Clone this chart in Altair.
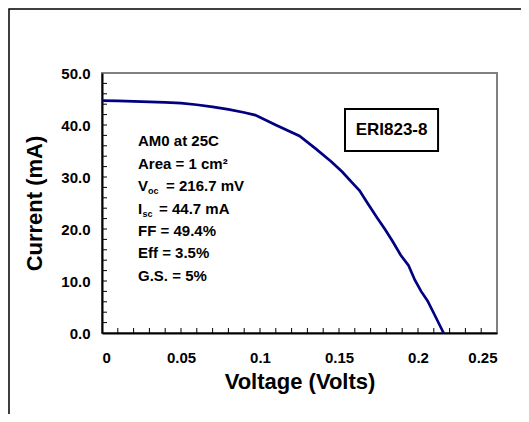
import altair as alt
import pandas as pd

# I-V curve data (Voltage in V, Current in mA)
voltage = [0.0, 0.01, 0.02, 0.03, 0.04, 0.05, 0.06, 0.07, 0.08, 0.09, 0.097,
           0.11, 0.125, 0.135, 0.145, 0.152, 0.158, 0.163, 0.168, 0.174, 0.179,
           0.184, 0.189, 0.194, 0.198, 0.202, 0.206, 0.210, 0.2162]
current = [44.7, 44.65, 44.55, 44.45, 44.35, 44.2, 43.9, 43.5, 43.0, 42.4, 41.9,
           40.0, 37.9, 35.5, 33.0, 31.0, 29.0, 27.4, 25.0, 22.2, 20.0,
           17.6, 15.0, 13.0, 10.2, 8.0, 6.2, 3.8, 0.0]

x_ticks = [0, 0.05, 0.1, 0.15, 0.2, 0.25]
y_ticks = [0, 10, 20, 30, 40, 50]
x_minor = [round(i * 0.01, 2) for i in range(1, 25)]
y_minor = [i * 2 for i in range(1, 25)]

# annotation text
ann_x = 0.0228
ann_lines = ["AM0 at 25C", "Area = 1 cm\u00b2", "V", "I", "FF = 49.4%", "Eff = 3.5%", "G.S. = 5%"]
ann_y = [36.9, 32.5, 28.3, 23.9, 19.6, 15.4, 11.0]
voc_rest = "= 216.7 mV"
isc_rest = "= 44.7 mA"
label_box = "ERI823-8"
box_x = [0.1538, 0.2127]
box_y = [35.0, 43.1]

FONT = "Liberation Sans"

xs = alt.Scale(domain=[0, 0.25], nice=False, zero=False)
ys = alt.Scale(domain=[0, 50], nice=False, zero=False)

curve_df = pd.DataFrame({"V": voltage, "I": current})

frame = alt.Chart(pd.DataFrame({"a": [0]})).mark_rect(
    fill=None, stroke="black", strokeWidth=1.5
).encode(x=alt.value(-93), x2=alt.value(450), y=alt.value(-64), y2=alt.value(400))

base_line = alt.Chart(curve_df).mark_line(color="#000080", strokeWidth=2.7).encode(
    x=alt.X("V:Q", scale=xs, axis=alt.Axis(
        values=x_ticks, format="~g", title="Voltage (Volts)", tickSize=0,
        labelPadding=17, titlePadding=6, grid=False)),
    y=alt.Y("I:Q", scale=ys, axis=alt.Axis(
        values=y_ticks, format=".1f", title="Current (mA)", tickSize=0,
        labelPadding=12, titlePadding=14, grid=False)),
)

xt = alt.Chart(pd.DataFrame({"t": x_minor})).mark_rule(color="black", strokeWidth=1).encode(
    x=alt.X("t:Q", scale=xs), y=alt.value(260), y2=alt.value(255))
yt = alt.Chart(pd.DataFrame({"t": y_minor})).mark_rule(color="black", strokeWidth=1).encode(
    y=alt.Y("t:Q", scale=ys), x=alt.value(0), x2=alt.value(5))

ann_df = pd.DataFrame({"x": [ann_x] * len(ann_lines), "y": ann_y, "t": ann_lines})
ann = alt.Chart(ann_df).mark_text(
    align="left", baseline="middle", font=FONT, fontWeight="bold", fontSize=15, color="black"
).encode(x=alt.X("x:Q", scale=xs), y=alt.Y("y:Q", scale=ys), text="t:N")

def piece(txt, yv, dx, dy=0, size=15):
    return alt.Chart(pd.DataFrame({"x": [ann_x], "y": [yv], "t": [txt]})).mark_text(
        align="left", baseline="middle", font=FONT, fontWeight="bold", fontSize=size,
        color="black", dx=dx, dy=dy
    ).encode(x=alt.X("x:Q", scale=xs), y=alt.Y("y:Q", scale=ys), text="t:N")

voc_sub = piece("oc", ann_y[2], 10, 5, 9)
voc_r = piece(voc_rest, ann_y[2], 28)
isc_sub = piece("sc", ann_y[3], 4.5, 5, 9)
isc_r = piece(isc_rest, ann_y[3], 21)

box = alt.Chart(pd.DataFrame({"x": [box_x[0]], "x2": [box_x[1]], "y": [box_y[0]], "y2": [box_y[1]]})).mark_rect(
    fill="white", stroke="black", strokeWidth=2
).encode(x=alt.X("x:Q", scale=xs), x2="x2:Q", y=alt.Y("y:Q", scale=ys), y2="y2:Q")
box_text = alt.Chart(pd.DataFrame({
    "x": [(box_x[0] + box_x[1]) / 2], "y": [(box_y[0] + box_y[1]) / 2], "t": [label_box]
})).mark_text(font=FONT, fontWeight="bold", fontSize=17, color="black", baseline="middle").encode(
    x=alt.X("x:Q", scale=xs), y=alt.Y("y:Q", scale=ys), text="t:N")

chart = alt.layer(frame, base_line, xt, yt, ann, voc_sub, voc_r, isc_sub, isc_r, box, box_text).properties(
    width=395, height=260,
    autosize=alt.AutoSizeParams(type="none"),
    padding={"left": 94, "top": 65, "right": 24, "bottom": 81},
).configure_view(
    stroke="#808080", strokeWidth=2
).configure_axis(
    domainColor="black", domainWidth=2,
    labelFont=FONT, labelFontWeight="bold", labelFontSize=15, labelColor="black",
    titleFont=FONT, titleFontWeight="bold", titleFontSize=22, titleColor="black",
)

chart.save("out.html", embed_options={"renderer": "svg", "actions": False})
